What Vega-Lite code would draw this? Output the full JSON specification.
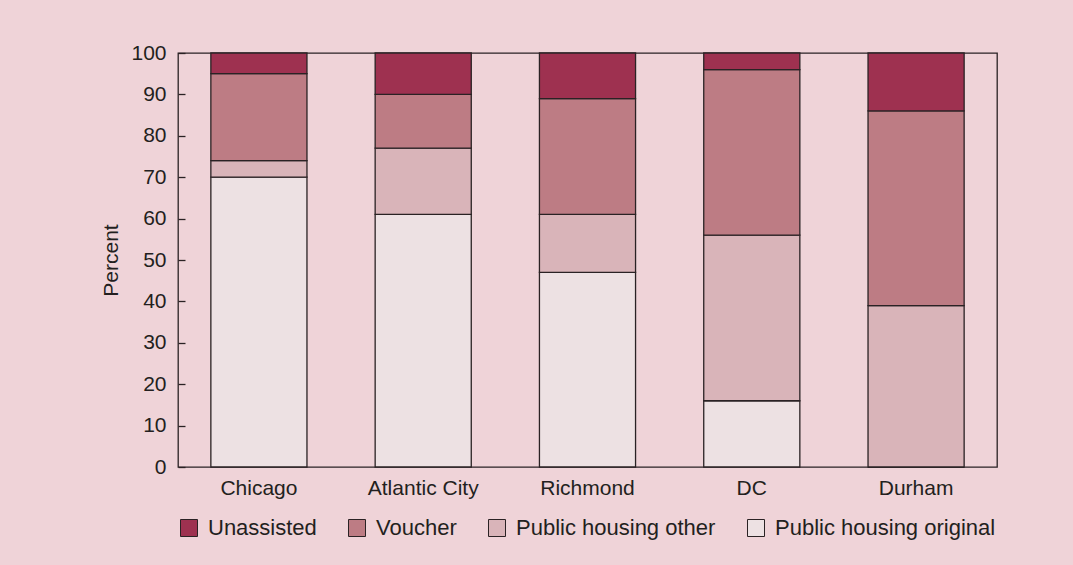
{
  "$schema": "https://vega.github.io/schema/vega-lite/v6.json",
  "autosize": {"type": "none"},
  "width": 819,
  "height": 414,
  "padding": {"left": 178, "top": 53, "right": 76, "bottom": 98},
  "background": "#efd3d8",
  "data": {"values": [
    {"city": "Chicago", "type": "Public housing original", "ord": 1, "pct": 70},
    {"city": "Chicago", "type": "Public housing other", "ord": 2, "pct": 4},
    {"city": "Chicago", "type": "Voucher", "ord": 3, "pct": 21},
    {"city": "Chicago", "type": "Unassisted", "ord": 4, "pct": 5},
    {"city": "Atlantic City", "type": "Public housing original", "ord": 1, "pct": 61},
    {"city": "Atlantic City", "type": "Public housing other", "ord": 2, "pct": 16},
    {"city": "Atlantic City", "type": "Voucher", "ord": 3, "pct": 13},
    {"city": "Atlantic City", "type": "Unassisted", "ord": 4, "pct": 10},
    {"city": "Richmond", "type": "Public housing original", "ord": 1, "pct": 47},
    {"city": "Richmond", "type": "Public housing other", "ord": 2, "pct": 14},
    {"city": "Richmond", "type": "Voucher", "ord": 3, "pct": 28},
    {"city": "Richmond", "type": "Unassisted", "ord": 4, "pct": 11},
    {"city": "DC", "type": "Public housing original", "ord": 1, "pct": 16},
    {"city": "DC", "type": "Public housing other", "ord": 2, "pct": 40},
    {"city": "DC", "type": "Voucher", "ord": 3, "pct": 40},
    {"city": "DC", "type": "Unassisted", "ord": 4, "pct": 4},
    {"city": "Durham", "type": "Public housing original", "ord": 1, "pct": 0},
    {"city": "Durham", "type": "Public housing other", "ord": 2, "pct": 39},
    {"city": "Durham", "type": "Voucher", "ord": 3, "pct": 47},
    {"city": "Durham", "type": "Unassisted", "ord": 4, "pct": 14}
  ]},
  "mark": {"type": "bar", "stroke": "#2a2224", "strokeWidth": 1.3},
  "encoding": {
    "x": {
      "field": "city", "type": "nominal",
      "sort": ["Chicago", "Atlantic City", "Richmond", "DC", "Durham"],
      "scale": {"paddingInner": 0.415, "paddingOuter": 0.2},
      "axis": {"title": null, "labelAngle": 0, "ticks": false, "domain": false, "labelPadding": 10, "labelFontSize": 21}
    },
    "y": {
      "field": "pct", "type": "quantitative", "stack": "zero",
      "scale": {"domain": [0, 100], "nice": false},
      "axis": {"title": "Percent", "titleFontSize": 21, "titleFontWeight": "normal", "values": [0,10,20,30,40,50,60,70,80,90,100], "labelOverlap": false, "offset": -7, "domain": false, "tickSize": 7, "labelPadding": 12, "labelFontSize": 21, "grid": false, "titlePadding": 9}
    },
    "color": {
      "field": "type", "type": "nominal",
      "sort": ["Unassisted", "Voucher", "Public housing other", "Public housing original"],
      "scale": {"domain": ["Unassisted", "Voucher", "Public housing other", "Public housing original"], "range": ["#9e3150", "#bd7c84", "#d9b4b9", "#ede1e3"]},
      "legend": {"title": null, "orient": "bottom", "direction": "horizontal", "symbolType": "square", "symbolSize": 289, "symbolStrokeColor": "#2a2224", "symbolStrokeWidth": 1, "symbolOpacity": 1, "labelFontSize": 22, "labelLimit": 0, "labelOffset": 8, "columnPadding": 29, "offset": 19}
    },
    "order": {"field": "ord", "type": "quantitative"}
  },
  "config": {
    "font": "Liberation Sans",
    "view": {"stroke": "#2a2224", "strokeWidth": 1.3},
    "axis": {"labelColor": "#231f20", "titleColor": "#231f20", "domainColor": "#2a2224", "tickColor": "#2a2224", "domainWidth": 1.3, "tickWidth": 1.3},
    "legend": {"labelColor": "#231f20"}
  }
}
